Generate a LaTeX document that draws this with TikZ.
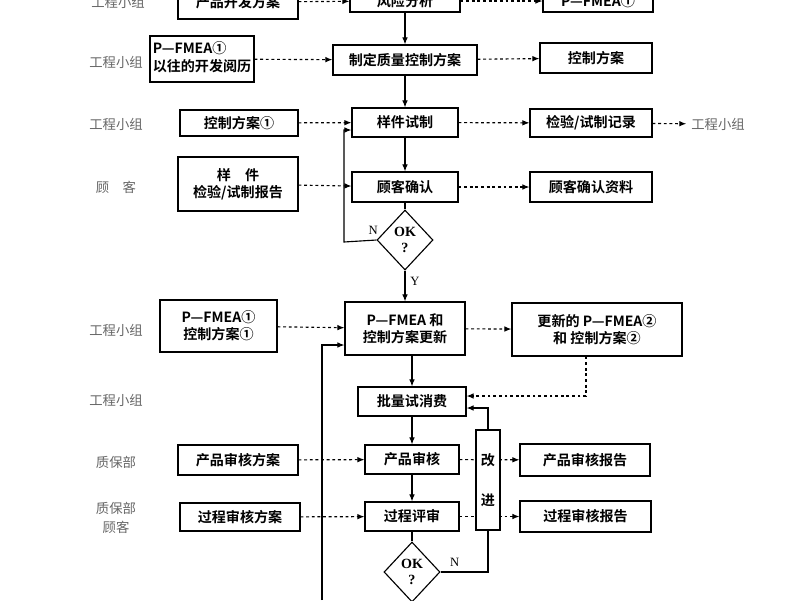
\documentclass[tikz,border=0pt]{standalone}
\usepackage{fontspec}
\setmainfont{Liberation Serif}
\newfontfamily\cjk{Noto Sans CJK SC}[BoldFont={Noto Sans CJK SC Bold}]
\usetikzlibrary{arrows.meta,positioning,shapes.geometric,calc}
\tikzset{
  box/.style={draw,thick,fill=white,font=\cjk\bfseries\fontsize{10}{12}\selectfont,align=center,inner sep=0pt},
  lbl/.style={font=\cjk\fontsize{9.5}{13}\selectfont,text=black!60,align=center},
  flow/.style={thick,-{Latex[length=5pt,width=4pt]}},
  dflow/.style={thick,dash pattern=on 2pt off 2pt,-{Latex[length=5pt,width=4pt]}},
  ok/.style={draw,thick,diamond,fill=white,minimum width=56\px,minimum height=60\px,inner sep=0pt,aspect=0.93,font=\bfseries\fontsize{10}{11}\selectfont,align=center},
}
\newcommand\px{*0.025cm}
\newcommand\bx[6]{\node[box,minimum width=(#4-#2)\px,minimum height=(#5-#3)\px] (#1) at ({(#2+#4)/2},{(#3+#5)/2}) {#6};}
\begin{document}
\begin{tikzpicture}[x=0.025cm,y=-0.025cm]
\useasboundingbox (0,0) rectangle (800,600);
\clip (0,0) rectangle (800,600);
% top row
\bx{devplan}{178}{-15}{298}{19}{产品开发方案}
\bx{risk}{350}{-10}{460}{12}{风险分析}
\bx{fmeaA}{543}{-10}{653}{12}{P—FMEA①}
\node[lbl] (gA) at (118,2) {工程小组};
\draw[dflow] (devplan) -- (risk);
\draw[dflow] (risk) -- (fmeaA);
% quality plan
\bx{hist}{150}{36}{254}{82}{\begin{tabular}{@{}l@{}}P—FMEA①\\以往的开发阅历\end{tabular}}
\bx{qplan}{333}{45}{477}{75}{制定质量控制方案}
\bx{ctrl}{540}{43}{652}{73}{控制方案}
\node[lbl] (gB) at (116,62) {工程小组};
\draw[dflow] (hist) -- (qplan);
\draw[dflow] (qplan) -- (ctrl);
% sample
\bx{ctrlA}{180}{110}{298}{136}{控制方案①}
\bx{sample}{352}{108}{458}{137}{样件试制}
\bx{rec}{530}{109}{652}{137}{检验/试制记录}
\node[lbl] (gC) at (116,124) {工程小组};
\node[lbl] (gD) at (718,124) {工程小组};
\draw[dflow] (ctrlA) -- (sample);
\draw[dflow] (sample) -- (rec);
\draw[dflow] (rec) -- (gD);
% customer
\bx{rep}{178}{157}{298}{211}{样\quad 件\\检验/试制报告}
\bx{cust}{352}{172}{458}{202}{顾客确认}
\bx{custd}{530}{172}{652}{202}{顾客确认资料}
\node[lbl] (gE) at (116,187) {顾\quad 客};
\draw[dflow] (rep) -- (cust);
\draw[dflow] (cust) -- (custd);
\node[ok] (okA) at (405,240) {OK\\?};
% update
\bx{fmeaB}{160}{300}{277}{352}{P—FMEA①\\控制方案①}
\bx{upd}{345}{302}{465}{355}{P—FMEA 和\\控制方案更新}
\bx{newf}{512}{303}{682}{356}{更新的 P—FMEA②\\和\ 控制方案②}
\node[lbl] (gF) at (116,330) {工程小组};
\draw[dflow] (fmeaB) -- (upd);
\draw[dflow] (upd) -- (newf);
% trial lot
\bx{lot}{358}{387}{466}{416}{批量试消费}
\node[lbl] (gG) at (116,400) {工程小组};
\draw[dflow] (newf.south -| 586,0) |- (lot.east |- 0,396);
% audits
\bx{paud}{178}{445}{298}{475}{产品审核方案}
\bx{prod}{365}{445}{459}{474}{产品审核}
\bx{prep}{520}{444}{650}{476}{产品审核报告}
\node[lbl] (gH) at (116,462) {质保部};
\bx{caud}{180}{503}{300}{531}{过程审核方案}
\bx{proc}{365}{502}{459}{531}{过程评审}
\bx{crep}{520}{501}{651}{532}{过程审核报告}
\node[lbl] (gI) at (116,518) {质保部\\顾客};
\draw[dflow] (paud) -- (prod);
\draw[dflow] (prod) -- (prep);
\draw[dflow] (caud) -- (proc);
\draw[dflow] (proc) -- (crep);
\bx{impr}{476}{430}{500}{530}{改\\[16pt]进}
\node[ok] (okB) at (412,572) {OK\\?};
% main flow
\draw[flow] (risk) -- (risk |- qplan.north);
\draw[flow] (qplan.south -| risk) -- (risk |- sample.north);
\draw[flow] (sample.south -| risk) -- (risk |- cust.north);
\draw[thick] (cust.south -| okA) -- (okA);
\draw[flow] (okA) -- node[right,pos=0.35,font=\small] {Y} (okA |- upd.north);
\draw[flow] (okA.west) -- node[above,pos=0.1,font=\small] {N} (344,242) |- (sample.west |- 0,130);
\draw[flow] (upd.south -| lot) -- (lot);
\draw[flow] (lot) -- (lot |- prod.north);
\draw[flow] (prod.south -| lot) -- (lot |- proc.north);
\draw[thick] (proc.south -| okB) -- (okB);
\draw[thick] (okB.east) -- node[above,pos=0.3,font=\small] {N} (488,572) -- (impr.south);
\draw[flow] (impr.north) |- (lot.east |- 0,408);
\draw[flow] (322,600) |- (upd.west |- 0,345);
\end{tikzpicture}
\end{document}
